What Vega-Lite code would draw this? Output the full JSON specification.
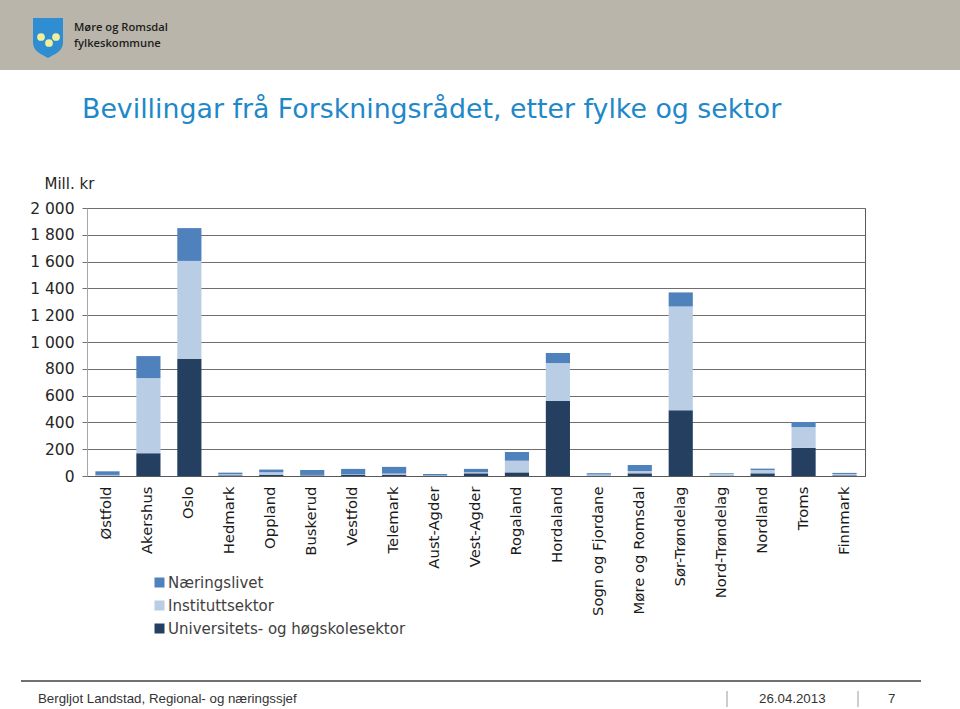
{
  "$schema": "https://vega.github.io/schema/vega-lite/v6.json",
  "padding": 0,
  "background": "white",
  "config": {
    "view": {"stroke": null},
    "font": "DejaVu Sans"
  },
  "bounds": "flush",
  "spacing": 138,
  "vconcat": [
    {
      "width": 960,
      "height": 70,
      "view": {"fill": "#B9B5AA", "stroke": null},
      "layer": [
        {
          "data": {"values": [{"logo": "skjold"}]},
          "mark": {"type": "point", "filled": true, "color": "#2F8ED2", "opacity": 1, "size": 900,
                   "shape": "M-1,-1.33L1,-1.33L1,0.3C1,0.9 0.4,1.1 0,1.33C-0.4,1.1 -1,0.9 -1,0.3Z"},
          "encoding": {
            "x": {"datum": 48, "type": "quantitative", "scale": {"domain": [0, 960], "nice": false, "zero": false}, "axis": null},
            "y": {"datum": 38, "type": "quantitative", "scale": {"domain": [0, 70], "nice": false, "zero": false, "reverse": true}, "axis": null}
          }
        },
        {
          "data": {"values": [{"kule": "venstre", "kx": 41, "ky": 37}, {"kule": "midten", "kx": 49, "ky": 43}, {"kule": "høgre", "kx": 56, "ky": 37}]},
          "mark": {"type": "point", "filled": true, "color": "#F1EE9E", "opacity": 1, "size": 60, "shape": "circle"},
          "encoding": {
            "x": {"field": "kx", "type": "quantitative"},
            "y": {"field": "ky", "type": "quantitative"}
          }
        },
        {
          "data": {"values": [{"namn": "Møre og Romsdal"}]},
          "mark": {"type": "text", "align": "left", "baseline": "middle",
                   "font": "Open Sans", "fontWeight": 600, "fontSize": 11.2, "color": "#1d1d1d"},
          "encoding": {
            "x": {"datum": 74, "type": "quantitative"},
            "y": {"datum": 27.5, "type": "quantitative"},
            "text": {"field": "namn"}
          }
        },
        {
          "data": {"values": [{"namn": "fylkeskommune"}]},
          "mark": {"type": "text", "align": "left", "baseline": "middle",
                   "font": "Open Sans", "fontWeight": 600, "fontSize": 11.2, "color": "#1d1d1d"},
          "encoding": {
            "x": {"datum": 74, "type": "quantitative"},
            "y": {"datum": 43.5, "type": "quantitative"},
            "text": {"field": "namn"}
          }
        }
      ]
    },
    {
      "bounds": "flush",
      "spacing": 0,
      "hconcat": [
        {
          "width": 87,
          "height": 268,
          "data": {"values": []},
          "mark": "rect",
          "encoding": {}
        },
        {
          "width": 778,
          "height": 268,
          "view": {"stroke": "#595959", "strokeWidth": 1},
          "title": {
            "text": "Bevillingar frå Forskningsrådet, etter fylke og sektor",
            "anchor": "start",
            "frame": "group",
            "dx": -5,
            "offset": 52,
            "font": "DejaVu Sans",
            "fontSize": 26.8,
            "fontWeight": "normal",
            "color": "#1E88C8"
          },
          "data": {
            "values": [
              {"fylke": "Østfold", "sektor": "Universitets- og høgskolesektor", "nivå": 1, "mill": 3},
              {"fylke": "Østfold", "sektor": "Instituttsektor", "nivå": 2, "mill": 5},
              {"fylke": "Østfold", "sektor": "Næringslivet", "nivå": 3, "mill": 27},
              {"fylke": "Akershus", "sektor": "Universitets- og høgskolesektor", "nivå": 1, "mill": 170},
              {"fylke": "Akershus", "sektor": "Instituttsektor", "nivå": 2, "mill": 560},
              {"fylke": "Akershus", "sektor": "Næringslivet", "nivå": 3, "mill": 165},
              {"fylke": "Oslo", "sektor": "Universitets- og høgskolesektor", "nivå": 1, "mill": 875},
              {"fylke": "Oslo", "sektor": "Instituttsektor", "nivå": 2, "mill": 730},
              {"fylke": "Oslo", "sektor": "Næringslivet", "nivå": 3, "mill": 245},
              {"fylke": "Hedmark", "sektor": "Universitets- og høgskolesektor", "nivå": 1, "mill": 5},
              {"fylke": "Hedmark", "sektor": "Instituttsektor", "nivå": 2, "mill": 8},
              {"fylke": "Hedmark", "sektor": "Næringslivet", "nivå": 3, "mill": 12},
              {"fylke": "Oppland", "sektor": "Universitets- og høgskolesektor", "nivå": 1, "mill": 10},
              {"fylke": "Oppland", "sektor": "Instituttsektor", "nivå": 2, "mill": 18},
              {"fylke": "Oppland", "sektor": "Næringslivet", "nivå": 3, "mill": 20},
              {"fylke": "Buskerud", "sektor": "Universitets- og høgskolesektor", "nivå": 1, "mill": 5},
              {"fylke": "Buskerud", "sektor": "Instituttsektor", "nivå": 2, "mill": 3},
              {"fylke": "Buskerud", "sektor": "Næringslivet", "nivå": 3, "mill": 37},
              {"fylke": "Vestfold", "sektor": "Universitets- og høgskolesektor", "nivå": 1, "mill": 10},
              {"fylke": "Vestfold", "sektor": "Instituttsektor", "nivå": 2, "mill": 3},
              {"fylke": "Vestfold", "sektor": "Næringslivet", "nivå": 3, "mill": 40},
              {"fylke": "Telemark", "sektor": "Universitets- og høgskolesektor", "nivå": 1, "mill": 10},
              {"fylke": "Telemark", "sektor": "Instituttsektor", "nivå": 2, "mill": 8},
              {"fylke": "Telemark", "sektor": "Næringslivet", "nivå": 3, "mill": 50},
              {"fylke": "Aust-Agder", "sektor": "Universitets- og høgskolesektor", "nivå": 1, "mill": 2},
              {"fylke": "Aust-Agder", "sektor": "Instituttsektor", "nivå": 2, "mill": 3},
              {"fylke": "Aust-Agder", "sektor": "Næringslivet", "nivå": 3, "mill": 10},
              {"fylke": "Vest-Agder", "sektor": "Universitets- og høgskolesektor", "nivå": 1, "mill": 20},
              {"fylke": "Vest-Agder", "sektor": "Instituttsektor", "nivå": 2, "mill": 8},
              {"fylke": "Vest-Agder", "sektor": "Næringslivet", "nivå": 3, "mill": 25},
              {"fylke": "Rogaland", "sektor": "Universitets- og høgskolesektor", "nivå": 1, "mill": 27},
              {"fylke": "Rogaland", "sektor": "Instituttsektor", "nivå": 2, "mill": 87},
              {"fylke": "Rogaland", "sektor": "Næringslivet", "nivå": 3, "mill": 65},
              {"fylke": "Hordaland", "sektor": "Universitets- og høgskolesektor", "nivå": 1, "mill": 560},
              {"fylke": "Hordaland", "sektor": "Instituttsektor", "nivå": 2, "mill": 283},
              {"fylke": "Hordaland", "sektor": "Næringslivet", "nivå": 3, "mill": 75},
              {"fylke": "Sogn og Fjordane", "sektor": "Universitets- og høgskolesektor", "nivå": 1, "mill": 3},
              {"fylke": "Sogn og Fjordane", "sektor": "Instituttsektor", "nivå": 2, "mill": 8},
              {"fylke": "Sogn og Fjordane", "sektor": "Næringslivet", "nivå": 3, "mill": 10},
              {"fylke": "Møre og Romsdal", "sektor": "Universitets- og høgskolesektor", "nivå": 1, "mill": 20},
              {"fylke": "Møre og Romsdal", "sektor": "Instituttsektor", "nivå": 2, "mill": 17},
              {"fylke": "Møre og Romsdal", "sektor": "Næringslivet", "nivå": 3, "mill": 45},
              {"fylke": "Sør-Trøndelag", "sektor": "Universitets- og høgskolesektor", "nivå": 1, "mill": 490},
              {"fylke": "Sør-Trøndelag", "sektor": "Instituttsektor", "nivå": 2, "mill": 775},
              {"fylke": "Sør-Trøndelag", "sektor": "Næringslivet", "nivå": 3, "mill": 105},
              {"fylke": "Nord-Trøndelag", "sektor": "Universitets- og høgskolesektor", "nivå": 1, "mill": 3},
              {"fylke": "Nord-Trøndelag", "sektor": "Instituttsektor", "nivå": 2, "mill": 12},
              {"fylke": "Nord-Trøndelag", "sektor": "Næringslivet", "nivå": 3, "mill": 5},
              {"fylke": "Nordland", "sektor": "Universitets- og høgskolesektor", "nivå": 1, "mill": 20},
              {"fylke": "Nordland", "sektor": "Instituttsektor", "nivå": 2, "mill": 25},
              {"fylke": "Nordland", "sektor": "Næringslivet", "nivå": 3, "mill": 10},
              {"fylke": "Troms", "sektor": "Universitets- og høgskolesektor", "nivå": 1, "mill": 210},
              {"fylke": "Troms", "sektor": "Instituttsektor", "nivå": 2, "mill": 155},
              {"fylke": "Troms", "sektor": "Næringslivet", "nivå": 3, "mill": 38},
              {"fylke": "Finnmark", "sektor": "Universitets- og høgskolesektor", "nivå": 1, "mill": 5},
              {"fylke": "Finnmark", "sektor": "Instituttsektor", "nivå": 2, "mill": 10},
              {"fylke": "Finnmark", "sektor": "Næringslivet", "nivå": 3, "mill": 8}
            ]
          },
          "mark": {"type": "bar"},
          "encoding": {
            "x": {
              "field": "fylke",
              "type": "nominal",
              "sort": ["Østfold", "Akershus", "Oslo", "Hedmark", "Oppland", "Buskerud", "Vestfold", "Telemark", "Aust-Agder", "Vest-Agder", "Rogaland", "Hordaland", "Sogn og Fjordane", "Møre og Romsdal", "Sør-Trøndelag", "Nord-Trøndelag", "Nordland", "Troms", "Finnmark"],
              "scale": {"paddingInner": 0.41, "paddingOuter": 0.205},
              "axis": {
                "title": null,
                "labelAngle": -90,
                "labelFont": "DejaVu Sans",
                "labelFontSize": 14.8,
                "labelColor": "#1a1a1a",
                "labelPadding": 10,
                "ticks": false,
                "domainColor": "#595959",
                "labelLimit": 200
              }
            },
            "y": {
              "field": "mill",
              "type": "quantitative",
              "stack": "zero",
              "scale": {"domain": [0, 2000], "nice": false},
              "axis": {
                "values": [0, 200, 400, 600, 800, 1000, 1200, 1400, 1600, 1800, 2000],
                "labelExpr": "replace(format(datum.value, ','), ',', ' ')",
                "labelFont": "DejaVu Sans",
                "labelFontSize": 15.5,
                "labelColor": "#262626",
                "labelPadding": 8,
                "tickSize": 5,
                "tickColor": "#6f6f6f",
                "gridColor": "#6f6f6f",
                "gridOpacity": 1,
                "domainColor": "#a6a6a6",
                "title": "Mill. kr",
                "titleAngle": 0,
                "titleAlign": "left",
                "titleBaseline": "middle",
                "titleX": -43,
                "titleY": -25,
                "titleFont": "DejaVu Sans",
                "titleFontSize": 15,
                "titleFontWeight": "normal",
                "titleColor": "#262626"
              }
            },
            "color": {
              "field": "sektor",
              "type": "nominal",
              "scale": {
                "domain": ["Næringslivet", "Instituttsektor", "Universitets- og høgskolesektor"],
                "range": ["#4F81BD", "#B9CDE5", "#243F60"]
              },
              "legend": {
                "orient": "none",
                "legendX": 152,
                "legendY": 575,
                "title": null,
                "symbolType": "square",
                "symbolSize": 100,
                "symbolStrokeWidth": 0,
                "labelFont": "DejaVu Sans",
                "labelFontSize": 15,
                "labelColor": "#404040",
                "labelOffset": 1,
                "rowPadding": 7,
                "labelLimit": 400
              }
            },
            "order": {"field": "nivå", "type": "quantitative"}
          }
        }
      ]
    },
    {
      "width": 960,
      "height": 363,
      "layer": [
        {
          "data": {"values": [{"linje": "bunnlinje"}]},
          "mark": {"type": "rule", "color": "#404040", "strokeWidth": 1.5},
          "encoding": {
            "x": {"datum": 21, "type": "quantitative", "scale": {"domain": [0, 960], "nice": false, "zero": false}, "axis": null},
            "x2": {"datum": 921},
            "y": {"datum": 335, "type": "quantitative", "scale": {"domain": [0, 363], "nice": false, "zero": false, "reverse": true}, "axis": null}
          }
        },
        {
          "data": {"values": [{"skilje": "dato"}]},
          "mark": {"type": "rule", "color": "#9a9a9a", "strokeWidth": 1},
          "encoding": {
            "x": {"datum": 727, "type": "quantitative"},
            "y": {"datum": 345, "type": "quantitative"},
            "y2": {"datum": 361}
          }
        },
        {
          "data": {"values": [{"skilje": "side"}]},
          "mark": {"type": "rule", "color": "#9a9a9a", "strokeWidth": 1},
          "encoding": {
            "x": {"datum": 858, "type": "quantitative"},
            "y": {"datum": 345, "type": "quantitative"},
            "y2": {"datum": 361}
          }
        },
        {
          "data": {"values": [{"tekst": "Bergljot Landstad, Regional- og næringssjef"}]},
          "mark": {"type": "text", "align": "left", "baseline": "alphabetic", "font": "Liberation Sans", "fontSize": 13.3, "color": "#333333"},
          "encoding": {
            "x": {"datum": 38, "type": "quantitative"},
            "y": {"datum": 357, "type": "quantitative"},
            "text": {"field": "tekst"}
          }
        },
        {
          "data": {"values": [{"tekst": "26.04.2013"}]},
          "mark": {"type": "text", "align": "left", "baseline": "alphabetic", "font": "Liberation Sans", "fontSize": 13.3, "color": "#333333"},
          "encoding": {
            "x": {"datum": 759, "type": "quantitative"},
            "y": {"datum": 357, "type": "quantitative"},
            "text": {"field": "tekst"}
          }
        },
        {
          "data": {"values": [{"tekst": "7"}]},
          "mark": {"type": "text", "align": "left", "baseline": "alphabetic", "font": "Liberation Sans", "fontSize": 13.3, "color": "#333333"},
          "encoding": {
            "x": {"datum": 888, "type": "quantitative"},
            "y": {"datum": 357, "type": "quantitative"},
            "text": {"field": "tekst"}
          }
        }
      ]
    }
  ]
}
